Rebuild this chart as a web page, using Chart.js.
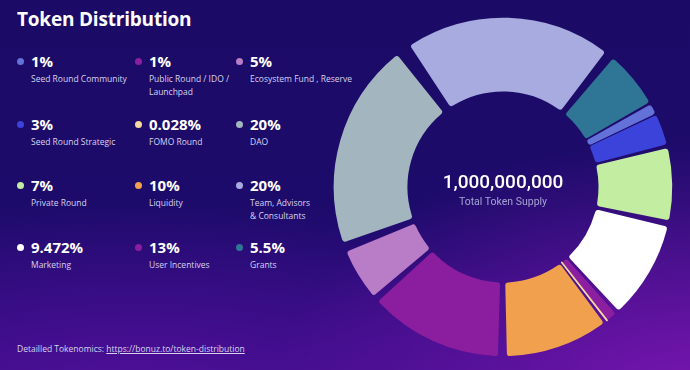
<!DOCTYPE html>
<html lang="en">
<head>
    <meta charset="UTF-8">
    <title>Token Distribution</title>
    <script src="https://cdn.jsdelivr.net/npm/chart.js"></script>
    <style>
        html, body { margin: 0; padding: 0; }
        body {
            width: 690px; height: 370px; overflow: hidden; position: relative;
            font-family: "Open Sans", sans-serif; color: #fff;
            background:
                radial-gradient(ellipse 420px 260px at 100% 108%, rgba(125, 22, 178, 0.95) 0%, rgba(125, 22, 178, 0) 100%),
                radial-gradient(ellipse 500px 200px at 20% 110%, rgba(90, 16, 160, 0.8) 0%, rgba(90, 16, 160, 0) 100%),
                linear-gradient(180deg, #1b0b66 0%, #1d0b6b 55%, #2e0c80 100%);
        }
        h1 { position: absolute; left: 17px; top: 6px; margin: 0; font-size: 19px; font-weight: 700; letter-spacing: -0.2px; }
        .item { position: absolute; width: 110px; }
        .item .dot { position: absolute; left: 0; top: 7px; width: 7px; height: 7px; border-radius: 50%; }
        .item .val { position: absolute; left: 14px; top: 0; font-size: 15px; font-weight: 700; line-height: 20px; }
        .item .lbl { position: absolute; left: 14px; top: 21px; font-size: 8.5px; line-height: 13px; color: #d6d3ee; width: 110px; }
        #chartBox { position: absolute; left: 333px; top: 17px; width: 340px; height: 340px; }
        #center { position: absolute; left: 403px; top: 170px; width: 200px; text-align: center; font-family: Roboto, sans-serif; }
        #center .big { font-size: 19px; font-weight: 500; line-height: 24px; }
        #center .small { font-size: 10.5px; color: #a4a3d2; line-height: 16px; }
        #foot { position: absolute; left: 17px; top: 343px; font-size: 8.5px; color: #d6d3ee; }
        #foot a { color: #d6d3ee; }
    </style>
</head>
<body>
    <h1>Token Distribution</h1>
    <div id="legend"></div>
    <div id="chartBox"><canvas id="tokenChart"></canvas></div>
    <div id="center">
        <div class="big">1,000,000,000</div>
        <div class="small">Total Token Supply</div>
    </div>
    <div id="foot">Detailled Tokenomics: <a href="#">https://bonuz.to/token-distribution</a></div>

    <script>
        // Legend order (row by row)
        const labels = [
            'Seed Round Community', 'Public Round / IDO / Launchpad', 'Ecosystem Fund , Reserve',
            'Seed Round Strategic', 'FOMO Round', 'DAO',
            'Private Round', 'Liquidity', 'Team, Advisors & Consultants',
            'Marketing', 'User Incentives', 'Grants'
        ];
        const shares = [1, 1, 5, 3, 0.028, 20, 7, 10, 20, 9.472, 13, 5.5];
        const shareText = ['1%', '1%', '5%', '3%', '0.028%', '20%', '7%', '10%', '20%', '9.472%', '13%', '5.5%'];
        const colors = [
            '#6471d9', '#8c1fa0', '#b97cc6',
            '#3c43da', '#f6d9a0', '#a3b5bf',
            '#c3eea2', '#f1a14e', '#a7abe0',
            '#ffffff', '#8a1e9e', '#2e7596'
        ];
        // clockwise order of slices in the ring, starting at the top
        const ringOrder = [8, 11, 0, 3, 6, 9, 1, 4, 7, 10, 2, 5];

        // legend grid
        const colX = [17, 135, 236];
        const rowY = [51, 114, 175, 237];
        const legend = document.getElementById('legend');
        labels.forEach((name, i) => {
            const el = document.createElement('div');
            el.className = 'item';
            el.style.left = colX[i % 3] + 'px';
            el.style.top = rowY[Math.floor(i / 3)] + 'px';
            const lbl = name === 'Public Round / IDO / Launchpad' ? 'Public Round / IDO /<br>Launchpad'
                : name === 'Team, Advisors & Consultants' ? 'Team, Advisors<br>&amp; Consultants' : name;
            el.innerHTML = '<span class="dot" style="background:' + colors[i] + '"></span>' +
                '<div class="val">' + shareText[i] + '</div><div class="lbl">' + lbl + '</div>';
            legend.appendChild(el);
        });

        const ctx = document.getElementById('tokenChart').getContext('2d');
        new Chart(ctx, {
            type: 'doughnut',
            data: {
                labels: ringOrder.map(i => labels[i]),
                datasets: [{
                    data: ringOrder.map(i => shares[i]),
                    backgroundColor: ringOrder.map(i => colors[i]),
                    borderColor: ringOrder.map(i => colors[i]),
                    borderWidth: ringOrder.map(i => labels[i] === 'FOMO Round' ? 1.5 : 0),
                    borderRadius: 3,
                    spacing: 18
                }]
            },
            options: {
                responsive: true,
                maintainAspectRatio: false,
                animation: false,
                cutout: '54%',
                rotation: -36,
                layout: { padding: 0 },
                plugins: {
                    legend: { display: false },
                    tooltip: { enabled: false }
                }
            }
        });
    </script>
</body>
</html>
